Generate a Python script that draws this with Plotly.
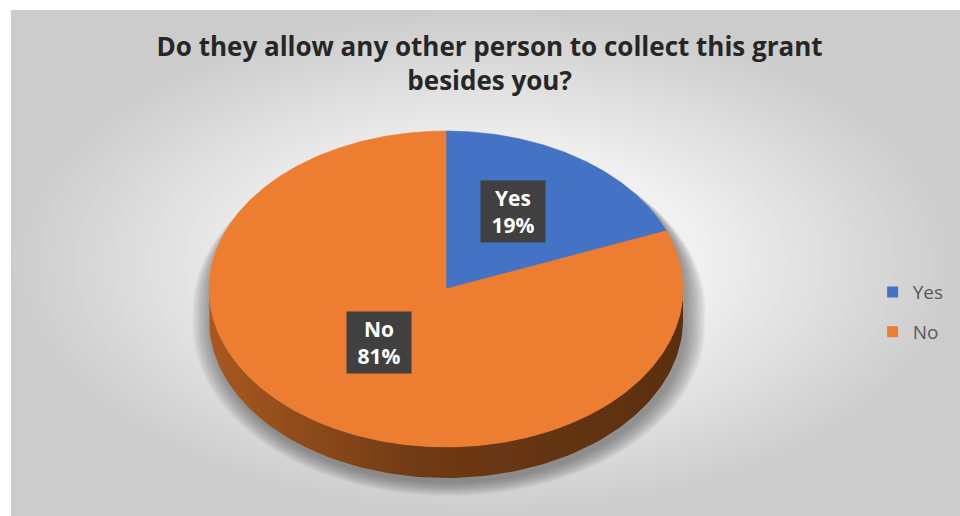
import numpy as np
import plotly.graph_objects as go

# Survey answers
categories = ["Yes", "No"]
values = [19, 81]
slice_colors = ["#4472C4", "#ED7D31"]
title_text = "Do they allow any other person to collect this grant<br>besides you?"

W, H = 960, 516

# Tilted pie geometry (pixel space of the plot axes)
CX, CY = 446, 289
RX, RY = 237, 158
DEPTH = 31


def rim(theta_deg, drop=0.0, grow=0.0):
    """Point(s) on the pie rim; angles measured clockwise from 12 o'clock."""
    t = np.radians(theta_deg)
    return (CX + (RX + grow) * np.sin(t),
            CY - (RY + grow * RY / RX) * np.cos(t) + drop)


fig = go.Figure()

# Panel background with a radial gradient
px0, py0 = 11, 10
fig.add_trace(go.Scatter(
    x=[px0, W, W, px0, px0], y=[py0, py0, H, H, py0],
    mode="lines", line=dict(width=0), fill="toself",
    fillgradient=dict(type="radial",
                      colorscale=[[0, "#ffffff"], [0.45, "#f0f0f0"], [1, "#cccccc"]]),
    hoverinfo="skip", showlegend=False))

# Soft drop shadow of the whole disc, cast downwards
upper = np.linspace(-90, 90, 120)
lower = np.linspace(90, 270, 120)
for k in range(14):
    g = k * 1.5
    ux, uy = rim(upper, drop=4 + g * 0.9, grow=g)
    lx, ly = rim(lower, drop=DEPTH + 5, grow=g)
    fig.add_trace(go.Scatter(
        x=np.r_[ux + 3, lx + 3, ux[0] + 3], y=np.r_[uy, ly, uy[0]],
        mode="lines", line=dict(width=0), fill="toself",
        fillcolor="rgba(70,70,70,0.05)", hoverinfo="skip", showlegend=False))

# Visible front wall of the disc (belongs to the large slice)
ax_, ay_ = rim(lower)
bx_, by_ = rim(lower[::-1], drop=DEPTH)
fig.add_trace(go.Scatter(
    x=np.r_[ax_, bx_, ax_[0]], y=np.r_[ay_, by_, ay_[0]],
    mode="lines", line=dict(width=0), fill="toself",
    fillgradient=dict(type="horizontal",
                      colorscale=[[0, "#a9581f"], [0.45, "#6e3a14"], [1, "#5a2f0f"]]),
    hoverinfo="skip", showlegend=False))

# Top faces of the slices
total = float(sum(values))
start = 0.0
mids = []
for cat, val, col in zip(categories, values, slice_colors):
    span = 360.0 * val / total
    th = np.linspace(start, start + span, max(int(span * 2), 8))
    sx, sy = rim(th)
    fig.add_trace(go.Scatter(
        x=np.r_[CX, sx, CX], y=np.r_[CY, sy, CY],
        mode="lines", line=dict(width=0.6, color=col), fill="toself",
        fillcolor=col, name=cat, hoverinfo="name", showlegend=False))
    mids.append(start + span / 2)
    start += span

# Data labels in dark boxes
for cat, val, mid in zip(categories, values, mids):
    lx, ly = rim(mid)
    fig.add_annotation(
        x=CX + (lx - CX) * 0.5, y=CY + (ly - CY) * 0.5, xref="x", yref="y",
        yshift=12, text=f"<b>{cat}<br>{val}%</b>", showarrow=False,
        font=dict(family="Open Sans", size=21, color="#ffffff"),
        bgcolor="#404040", width=60, height=57, borderpad=2, align="center")

# Legend entries
for cat, col in zip(categories, slice_colors):
    fig.add_trace(go.Scatter(
        x=[None], y=[None], mode="markers", name=cat, legendgroup=cat,
        marker=dict(symbol="square", size=11, color=col)))

fig.update_layout(
    width=W, height=H,
    margin=dict(l=0, r=0, t=0, b=0),
    paper_bgcolor="#ffffff", plot_bgcolor="rgba(0,0,0,0)",
    xaxis=dict(range=[0, W], visible=False, fixedrange=True),
    yaxis=dict(range=[H, 0], visible=False, fixedrange=True),
    title=dict(text=f"<b>{title_text}</b>", x=0.51, xanchor="center",
               y=0.892, yanchor="top",
               font=dict(family="Open Sans", size=26, color="#262626")),
    legend=dict(x=0.909, y=0.395, xanchor="left", yanchor="middle",
                font=dict(family="Open Sans", size=19, color="#595959"),
                bgcolor="rgba(0,0,0,0)", tracegroupgap=12, itemwidth=30),
    showlegend=True,
)

fig.write_html("out.html")
